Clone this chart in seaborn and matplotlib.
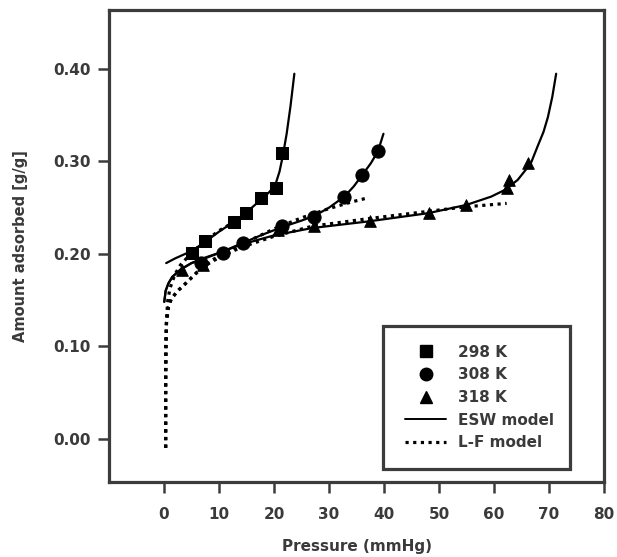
import matplotlib
matplotlib.use("Agg")
import matplotlib.pyplot as plt
from matplotlib.lines import Line2D
from matplotlib.patches import Rectangle
import seaborn as sns

p298 = [5.1, 7.4, 12.8, 14.9, 17.7, 20.3, 21.5]
q298 = [0.201, 0.214, 0.235, 0.244, 0.261, 0.271, 0.309]

p308 = [6.7, 10.7, 14.3, 21.5, 27.3, 32.8, 36.0, 38.9]
q308 = [0.190, 0.201, 0.212, 0.230, 0.240, 0.262, 0.285, 0.311]

p318 = [3.3, 7.0, 20.7, 27.3, 37.4, 48.1, 54.9, 62.3, 62.7, 66.1]
q318 = [0.182, 0.188, 0.226, 0.230, 0.236, 0.244, 0.253, 0.271, 0.280, 0.298]

# ESW model curves
esw298_p = [0.4, 2.0, 5.0, 7.5, 10.0, 12.8, 15.0, 17.7, 19.0, 20.2, 21.0, 21.6, 22.3, 23.0, 23.7]
esw298_q = [0.190, 0.195, 0.203, 0.213, 0.224, 0.235, 0.245, 0.259, 0.266, 0.274, 0.289, 0.306, 0.330, 0.360, 0.395]

esw308_p = [0.05, 0.3, 0.8, 1.5, 3.0, 5.0, 7.0, 10.5, 14.0, 18.0, 21.5, 25.0, 27.3, 30.0, 32.8, 34.5, 36.0, 37.6, 38.9, 39.9]
esw308_q = [0.148, 0.160, 0.168, 0.175, 0.183, 0.190, 0.195, 0.202, 0.211, 0.221, 0.229, 0.236, 0.241, 0.250, 0.262, 0.273, 0.285, 0.298, 0.311, 0.330]

esw318_p = [0.05, 0.3, 0.8, 1.5, 3.0, 5.0, 7.0, 10.0, 14.0, 20.0, 27.0, 37.0, 48.0, 55.0, 59.5, 61.9, 64.3, 66.7, 67.9, 69.0, 69.8, 70.6, 71.3]
esw318_q = [0.148, 0.160, 0.168, 0.175, 0.183, 0.190, 0.194, 0.201, 0.210, 0.220, 0.228, 0.235, 0.244, 0.253, 0.262, 0.269, 0.280, 0.298, 0.316, 0.332, 0.348, 0.370, 0.395]

# L-F model curves
lf298_p = [0.3, 0.3, 0.35, 0.45, 0.7, 1.1, 2.0, 3.0, 5.0, 7.5, 10.0, 12.0]
lf298_q = [-0.010, 0.060, 0.100, 0.130, 0.150, 0.163, 0.178, 0.188, 0.201, 0.214, 0.225, 0.232]

lf308_p = [0.3, 0.3, 0.35, 0.45, 0.8, 1.3, 2.5, 3.6, 6.0, 8.0, 10.0, 14.0, 20.0, 25.0, 30.0, 34.0, 37.3]
lf308_q = [-0.010, 0.060, 0.100, 0.125, 0.142, 0.151, 0.160, 0.166, 0.180, 0.190, 0.198, 0.210, 0.227, 0.239, 0.249, 0.256, 0.261]

lf318_p = [0.3, 0.3, 0.35, 0.45, 0.8, 1.3, 2.5, 3.6, 6.0, 8.0, 10.0, 14.0, 20.0, 27.0, 37.0, 48.0, 55.0, 62.3]
lf318_q = [-0.010, 0.060, 0.100, 0.125, 0.142, 0.151, 0.160, 0.166, 0.180, 0.189, 0.196, 0.207, 0.219, 0.230, 0.238, 0.246, 0.251, 0.2546]

x_ticks = [0, 10, 20, 30, 40, 50, 60, 70, 80]
y_ticks = [0.00, 0.10, 0.20, 0.30, 0.40]
y_ticklabels = ["0.00", "0.10", "0.20", "0.30", "0.40"]
legend_labels = ["298 K", "308 K", "318 K", "ESW model", "L-F model"]

# ---- drawing ----
sns.set_theme(style="white")
plt.rcParams["font.family"] = ["DejaVu Sans"]
frame_col = "#3c3c3c"
text_col = "#3a3a3a"

fig = plt.figure(figsize=(6.17, 5.57), dpi=100)
ax = fig.add_axes([109 / 617, 75 / 557, 495 / 617, 472 / 557])

dotted = (0, (1, 1.4))
for px, qy in [(esw298_p, esw298_q), (esw308_p, esw308_q), (esw318_p, esw318_q)]:
    sns.lineplot(x=px, y=qy, sort=False, estimator=None, color="black", lw=1.6, ax=ax)
for px, qy in [(lf298_p, lf298_q), (lf308_p, lf308_q), (lf318_p, lf318_q)]:
    sns.lineplot(x=px, y=qy, sort=False, estimator=None, color="black", lw=2.3,
                 linestyle=dotted, ax=ax)

sns.scatterplot(x=p298, y=q298, marker="s", s=85, color="black", edgecolor="black", ax=ax, zorder=5)
sns.scatterplot(x=p308, y=q308, marker="o", s=90, color="black", edgecolor="black", ax=ax, zorder=5)
sns.scatterplot(x=p318, y=q318, marker="^", s=70, color="black", edgecolor="black", ax=ax, zorder=5)

ax.set_xlim(-10, 80)
ax.set_ylim(-0.047, 0.464)
ax.set_xticks(x_ticks)
ax.set_yticks(y_ticks)
ax.set_yticklabels(y_ticklabels)

for sp in ax.spines.values():
    sp.set_visible(True)
    sp.set_color(frame_col)
    sp.set_linewidth(2.3)

ax.tick_params(axis="both", which="major", direction="out", length=8, width=1.8,
               color=frame_col, labelcolor=text_col, labelsize=11)
ax.tick_params(axis="x", pad=10, bottom=True, top=False)
ax.tick_params(axis="y", pad=5, left=True, right=False)
for lab in ax.get_xticklabels() + ax.get_yticklabels():
    lab.set_fontweight("bold")

ax.set_xlabel("Pressure (mmHg)", fontsize=11, color=text_col, labelpad=12, fontweight="bold")
ax.set_ylabel("Amount adsorbed [g/g]", fontsize=10.5, color=text_col, labelpad=18, fontweight="bold")

# legend frame (drawn separately so the entries can sit where the reference has them)
ax.add_patch(Rectangle((0.5535, 0.0275), 0.3775, 0.303, transform=ax.transAxes,
                       fill=True, facecolor="white", edgecolor=frame_col, lw=2.3, zorder=6))

handles = [
    Line2D([], [], marker="s", ls="none", color="black", ms=8),
    Line2D([], [], marker="o", ls="none", color="black", ms=9),
    Line2D([], [], marker="^", ls="none", color="black", ms=8),
    Line2D([], [], ls="-", color="black", lw=1.4),
    Line2D([], [], ls=dotted, color="black", lw=2.3),
]
leg = ax.legend(handles, legend_labels, loc="upper left",
                bbox_to_anchor=(0.598, 0.291), frameon=False, fontsize=11,
                handlelength=2.7, handletextpad=0.8, labelspacing=0.5,
                borderpad=0, borderaxespad=0)
leg.set_zorder(7)
for t in leg.get_texts():
    t.set_color(text_col)
    t.set_fontweight("bold")

fig.savefig("out.png", dpi=100)
